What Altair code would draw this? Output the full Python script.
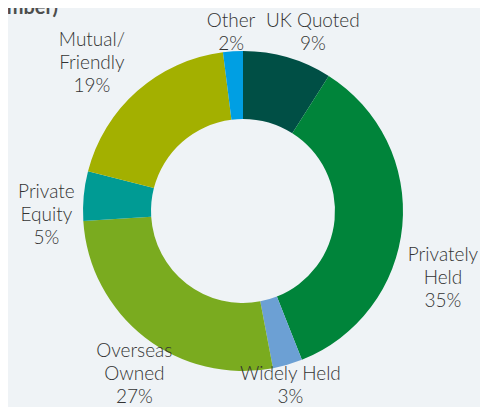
import math
import altair as alt
import pandas as pd

categories = ["UK Quoted", "Privately Held", "Widely Held", "Overseas Owned",
              "Private Equity", "Mutual/Friendly", "Other"]
labels = ["UK Quoted", "Privately\nHeld", "Widely Held", "Overseas\nOwned",
          "Private\nEquity", "Mutual/\nFriendly", "Other"]
values = [9, 35, 3, 27, 5, 19, 2]
colors = ["#004f45", "#00843a", "#6ca0d4", "#7aab1f", "#009b94", "#a3b000", "#009fe3"]

# ---- layout settings ----
W, H = 472, 399
cx, cy = 235, 203
OUTER, INNER = 160, 92
FS, LH = 19, 23
GAP = 8

def text_w(s):
    w = 0.0
    for ch in s:
        if ch in "W":
            w += 0.9
        elif ch in "MOQ":
            w += 0.75
        elif ch.isupper():
            w += 0.68
        elif ch in "iltjfr":
            w += 0.27
        elif ch in "mw":
            w += 0.75
        elif ch == " ":
            w += 0.24
        elif ch.isdigit():
            w += 0.52
        elif ch == "%":
            w += 0.8
        elif ch == "/":
            w += 0.35
        else:
            w += 0.5
    return w * FS

total = sum(values)
mids, texts, info = [], [], []
acc = 0
for lab, v in zip(labels, values):
    mids.append((acc + v / 2) / total * 2 * math.pi)
    acc += v
    lines = lab.split("\n") + [f"{v}%"]
    texts.append("\n".join(lines))
    a = max(text_w(s) for s in lines) / 2
    span = (len(lines) - 1) * LH
    info.append((a, span))

def glyph_rect(i, phi, R):
    a, span = info[i]
    px, py = R * math.sin(phi), -R * math.cos(phi)
    return (px - a, py - 0.42 * FS, px + a, py + span + 0.3 * FS)

def box_rect(i, phi, R):
    a, span = info[i]
    px, py = R * math.sin(phi), -R * math.cos(phi)
    return (px - a, py - 0.69 * FS, px + a, py + span + 0.52 * FS)

def dist0(r):
    x = min(max(0, r[0]), r[2])
    y = min(max(0, r[1]), r[3])
    return math.hypot(x, y)

def inside(r):
    return (r[0] >= -cx + 1 and r[2] <= W - cx - 1 and
            r[1] >= -cy and r[3] <= H - cy)

def r_gap(i, phi):
    R = OUTER
    while dist0(glyph_rect(i, phi, R)) < OUTER + GAP and R < 400:
        R += 0.25
    return R

def r_clamped(i, phi):
    R = r_gap(i, phi)
    while not inside(box_rect(i, phi, R)) and R > OUTER:
        R -= 0.25
    return R

def overlap(r1, r2, padx=14, pady=4):
    return not (r1[2] + padx <= r2[0] or r2[2] + padx <= r1[0] or
                r1[3] + pady <= r2[1] or r2[3] + pady <= r1[1])

placed = {}
for i in reversed(range(len(values))):
    choice = None
    # pass 1: small rotation, label kept clear of the ring and inside the view
    for k in range(0, 8):
        for s in (1, -1):
            phi = mids[i] + s * math.radians(k)
            R = r_gap(i, phi)
            r = glyph_rect(i, phi, R)
            if inside(box_rect(i, phi, R)) and not any(overlap(r, p[2]) for p in placed.values()):
                choice = (phi, R, r)
                break
        if choice:
            break
    # pass 2: pull the label in to fit the view, rotate only to avoid neighbours
    if choice is None:
        for k in range(0, 40):
            for s in (1, -1):
                phi = mids[i] + s * math.radians(k)
                R = r_clamped(i, phi)
                r = glyph_rect(i, phi, R)
                if not any(overlap(r, p[2]) for p in placed.values()):
                    choice = (phi, R, r)
                    break
            if choice:
                break
    placed[i] = choice

df = pd.DataFrame({
    "category": categories,
    "value": values,
    "order": list(range(len(categories))),
    "label": texts,
    "lpos": [placed[i][0] / (2 * math.pi) * total for i in range(len(values))],
    "lr": [placed[i][1] for i in range(len(values))],
})

theta_scale = alt.Scale(domain=[0, total], range=[0, 2 * math.pi])

base = alt.Chart(df)

arcs = base.transform_stack(
    stack="value", groupby=[], as_=["v0", "v1"],
    sort=[alt.SortField("order", order="ascending")],
).mark_arc(radius=OUTER, radius2=INNER, stroke=None).encode(
    theta=alt.Theta("v0:Q", scale=theta_scale, stack=None),
    theta2="v1:Q",
    color=alt.Color("category:N", scale=alt.Scale(domain=categories, range=colors),
                    sort=None, legend=None),
    x=alt.value(cx), y=alt.value(cy),
)

text = base.mark_text(
    fontSize=FS, font="Lato", fontWeight=300, color="#333333",
    lineHeight=LH, lineBreak="\n", baseline="middle", align="center",
).encode(
    theta=alt.Theta("lpos:Q", scale=theta_scale, stack=None),
    radius=alt.Radius("lr:Q", scale=None),
    text="label:N",
    x=alt.value(cx), y=alt.value(cy),
)

title = alt.Chart(pd.DataFrame({"t": ["mber)"]})).mark_text(
    align="right", baseline="alphabetic", fontSize=20, fontWeight="bold",
    font="Lato", color="#4d4d4d"
).encode(text="t:N", x=alt.value(50), y=alt.value(6))

chart = alt.layer(arcs, text, title).properties(
    width=W, height=H, padding=0, autosize=alt.AutoSizeParams(type="none"),
    background="#eff3f6",
).configure_view(stroke=None)

chart.save("out.html", embed_options={"renderer": "svg", "actions": False})
